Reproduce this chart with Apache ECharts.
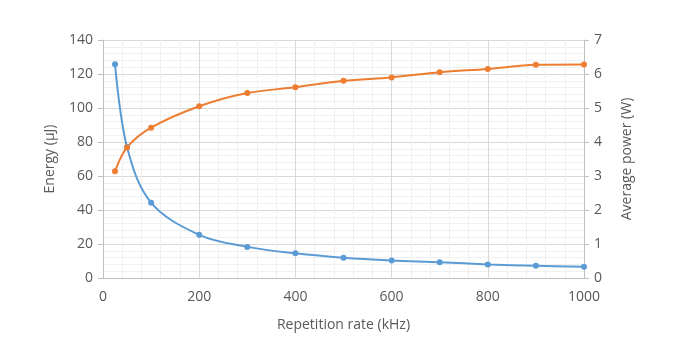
<!DOCTYPE html>
<html>
<head>
<meta charset="utf-8">
<script src="https://cdn.jsdelivr.net/npm/echarts@6/dist/echarts.min.js"></script>
<style>
  html, body {margin: 0; padding: 0; background: #fff;}
  #chart {width: 673px; height: 354px;}
</style>
</head>
<body>
<div id="chart"></div>
<script>
const energyRate = [25, 50, 100, 200, 300, 400, 500, 600, 700, 800, 900, 1000]
const energy = [125.8, 77, 44.3, 25.4, 18.3, 14.5, 11.9, 10.3, 9.3, 8.0, 7.2, 6.6]
const powerRate = [25, 50, 100, 200, 300, 400, 500, 600, 700, 800, 900, 1000]
const power = [3.14, 3.84, 4.42, 5.05, 5.44, 5.61, 5.8, 5.9, 6.05, 6.15, 6.27, 6.28]

const grey = '#595959'
const font = 'Open Sans'

const chart = echarts.init(document.getElementById('chart'))

chart.setOption({
  animation: false,
  grid: {left: 103, right: 89, top: 40, bottom: 76},
  xAxis: {
    type: 'value',
    min: 0, max: 1000, interval: 200,
    name: 'Repetition rate (kHz)',
    nameLocation: 'middle',
    nameGap: 40,
    nameTextStyle: {color: grey, fontSize: 14, fontFamily: font},
    axisLine: {lineStyle: {color: '#BFBFBF'}},
    axisTick: {show: false},
    axisLabel: {color: grey, fontSize: 14, fontFamily: font, margin: 12, formatter: v => String(v)},
    splitLine: {lineStyle: {color: '#D9D9D9'}},
    minorTick: {show: false, splitNumber: 5},
    minorSplitLine: {show: true, lineStyle: {color: '#F0F0F0'}},
  },
  yAxis: [{
    type: 'value',
    min: 0, max: 140, interval: 20,
    name: 'Energy (µJ)',
    nameLocation: 'middle',
    nameRotate: 90,
    nameGap: 46,
    nameTextStyle: {color: grey, fontSize: 14, fontFamily: font},
    axisLine: {show: true, lineStyle: {color: '#BFBFBF'}},
    axisTick: {show: true, length: 5, lineStyle: {color: '#BFBFBF'}},
    axisLabel: {color: grey, fontSize: 14, fontFamily: font, margin: 10},
    splitLine: {lineStyle: {color: '#D9D9D9'}},
    minorTick: {show: false, splitNumber: 5},
    minorSplitLine: {show: true, lineStyle: {color: '#F0F0F0'}},
  }, {
    type: 'value',
    min: 0, max: 7, interval: 1,
    name: 'Average power (W)',
    nameLocation: 'middle',
    nameRotate: 90,
    nameGap: 36,
    nameTextStyle: {color: grey, fontSize: 14, fontFamily: font},
    axisLine: {show: true, lineStyle: {color: '#BFBFBF'}},
    axisTick: {show: true, length: 5, lineStyle: {color: '#BFBFBF'}},
    axisLabel: {color: grey, fontSize: 14, fontFamily: font, margin: 10},
    splitLine: {show: false},
  }],
  series: [{
    name: 'Energy',
    type: 'line',
    yAxisIndex: 0,
    smooth: 0.35,
    data: energyRate.map((r, i) => [r, energy[i]]),
    symbol: 'circle',
    symbolSize: 6,
    lineStyle: {color: '#5B9BD5', width: 2},
    itemStyle: {color: '#5B9BD5'},
  }, {
    name: 'Average power',
    type: 'line',
    yAxisIndex: 1,
    smooth: 0.35,
    data: powerRate.map((r, i) => [r, power[i]]),
    symbol: 'circle',
    symbolSize: 6,
    lineStyle: {color: '#ED7D31', width: 2},
    itemStyle: {color: '#ED7D31'},
  }],
})
</script>
</body>
</html>
